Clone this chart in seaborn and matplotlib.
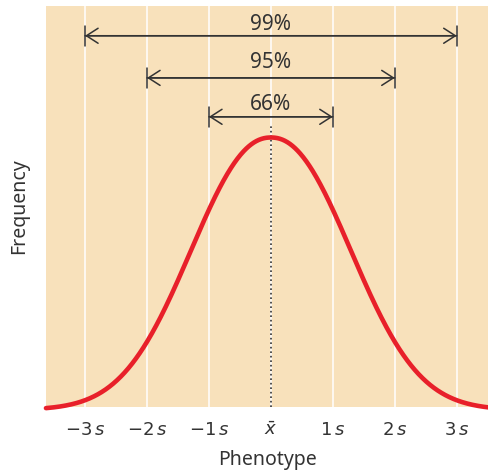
import numpy as np
import pandas as pd
import seaborn as sns
import matplotlib.pyplot as plt
from matplotlib.transforms import blended_transform_factory

# tick positions (in units of s) and their labels
ticks = [-3, -2, -1, 0, 1, 2, 3]
tick_labels = [r'$-3\,s$', r'$-2\,s$', r'$-1\,s$', r'$\bar{x}$', r'$1\,s$', r'$2\,s$', r'$3\,s$']

# coverage brackets: half-width in s and label
spans = [3, 2, 1]
span_labels = ['99%', '95%', '66%']
span_y = [0.925, 0.820, 0.723]
label_y = [0.954, 0.858, 0.753]

# bell curve as drawn: centre, width and shape exponent
mean = 0.0
width = 1.72
shape = 2.17

BG = '#f8e1bb'
RED = '#e8202a'
INK = '#333333'

sns.set_theme(style='white')
plt.rcParams['font.family'] = ['Noto Sans', 'DejaVu Sans']
plt.rcParams['mathtext.fontset'] = 'dejavusans'

xmin, xmax = -3.63, 3.52
x = np.linspace(xmin, xmax, 700)
curve = pd.DataFrame({'x': x, 'y': np.exp(-np.abs((x - mean) / width) ** shape)})

fig = plt.figure(figsize=(4.89, 4.72), dpi=100)
ax = fig.add_axes([0.094, 0.138, 0.906, 0.850])
ax.set_facecolor(BG)

for t in ticks:
    ax.axvline(t, color='white', lw=1.1, zorder=1)

ax.axvline(mean, ymin=0, ymax=0.70, color=INK, lw=1.2, ls=(0, (1, 1.7)), zorder=2)

sns.lineplot(data=curve, x='x', y='y', color=RED, lw=3.3, ax=ax, zorder=3, clip_on=False)

trans = blended_transform_factory(ax.transData, ax.transAxes)
for w, lab, yy, ty in zip(spans, span_labels, span_y, label_y):
    ax.annotate('', xy=(-w, yy), xytext=(w, yy), xycoords=trans, textcoords=trans,
                arrowprops=dict(arrowstyle='<->,head_length=0.7,head_width=0.45', color=INK, lw=1.1,
                                shrinkA=0, shrinkB=0))
    ax.annotate('', xy=(-w, yy), xytext=(w, yy), xycoords=trans, textcoords=trans,
                arrowprops=dict(arrowstyle='|-|,widthA=0.6,widthB=0.6', color=INK, lw=1.1,
                                shrinkA=0, shrinkB=0))
    ax.text(0, ty, lab, transform=trans, ha='center', va='center', fontsize=15, color=INK)

ax.set_xlim(xmin, xmax)
ax.set_ylim(0.011, 1.484)
ax.set_xticks(ticks)
ax.set_xticklabels(tick_labels, fontsize=13, color=INK)
ax.set_yticks([])
ax.tick_params(axis='x', length=0, pad=10)
ax.set_xlabel('Phenotype', fontsize=14, color=INK, labelpad=8)
ax.set_ylabel('Frequency', fontsize=14, color=INK, labelpad=12)
for s in ax.spines.values():
    s.set_visible(False)

fig.savefig('out.png', dpi=100, facecolor='white')
